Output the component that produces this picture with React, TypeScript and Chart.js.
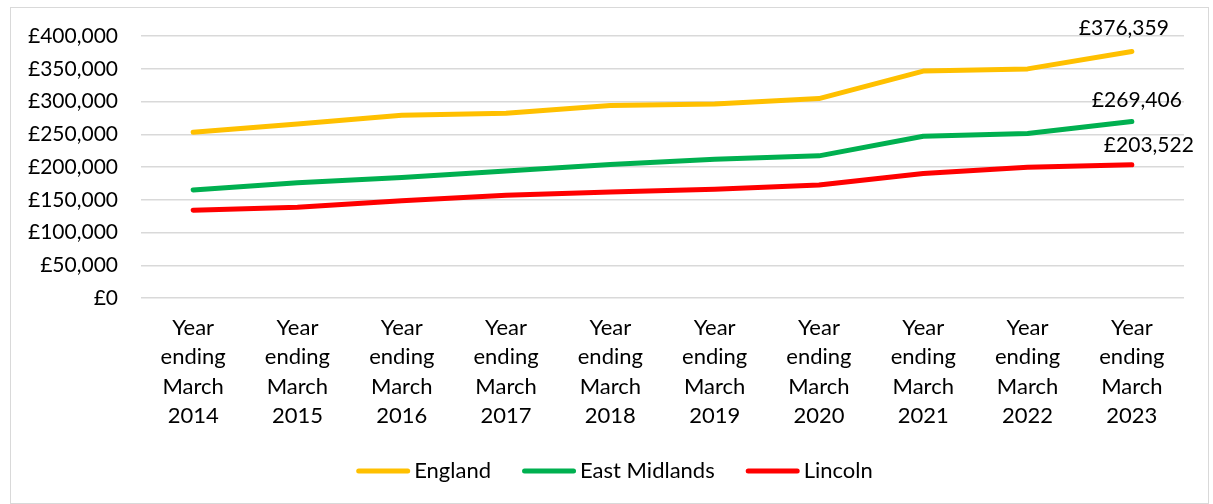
import React, { useEffect, useRef } from "react";
import { Chart, registerables } from "chart.js";

Chart.register(...registerables);

const years = ["2014", "2015", "2016", "2017", "2018", "2019", "2020", "2021", "2022", "2023"];
const categories = years.map((y) => ["Year", "ending", "March", y]);
const england = [253000, 265500, 279000, 282000, 294000, 296000, 304500, 346500, 349800, 376359];
const eastMidlands = [165000, 176000, 184000, 194000, 204000, 212000, 217000, 247000, 251000, 269406];
const lincoln = [134000, 138500, 148500, 157000, 162000, 166000, 172500, 190000, 199500, 203522];
const seriesNames = ["England", "East Midlands", "Lincoln"];
const seriesColors = ["#FFC000", "#00B050", "#FF0000"];
const yMin = 0;
const yMax = 400000;
const yStep = 50000;
const labelOffsets = [
  { dx: -8, dy: -16 },
  { dx: 5, dy: -15 },
  { dx: 17, dy: -13 },
];

const FONT = "Lato, 'Open Sans', sans-serif";

const fmt = (v: number) => "£" + Math.round(v).toLocaleString("en-GB");

const lastLabelPlugin = {
  id: "lastLabel",
  afterDatasetsDraw(chart: any) {
    const ctx = chart.ctx;
    ctx.save();
    ctx.font = `21px ${FONT}`;
    ctx.fillStyle = "#000";
    ctx.textAlign = "center";
    ctx.textBaseline = "alphabetic";
    chart.data.datasets.forEach((ds: any, i: number) => {
      const meta = chart.getDatasetMeta(i);
      const n = ds.data.length - 1;
      const pt = meta.data[n];
      if (!pt) return;
      const off = labelOffsets[i];
      ctx.fillText(fmt(ds.data[n]), pt.x + off.dx, pt.y + off.dy);
    });
    ctx.restore();
  },
};

// Legend drawn from the datasets (line sample + name), placed under the axis
const legendPlugin = {
  id: "lineLegend",
  afterDraw(chart: any) {
    const ctx = chart.ctx;
    const sample = 54;
    const gap = 4;
    const spacing = 31;
    ctx.save();
    ctx.font = `22px ${FONT}`;
    const items = chart.data.datasets.map((ds: any) => ({
      text: ds.label,
      color: ds.borderColor,
      w: sample + gap + ctx.measureText(ds.label).width,
    }));
    const total = items.reduce((s: number, it: any) => s + it.w, 0) + spacing * (items.length - 1);
    let x = chart.width / 2 + 8 - total / 2;
    const y = chart.chartArea.bottom + 173;
    items.forEach((it: any) => {
      ctx.strokeStyle = it.color;
      ctx.lineWidth = 5;
      ctx.lineCap = "round";
      ctx.beginPath();
      ctx.moveTo(x + 2.5, y);
      ctx.lineTo(x + sample - 2.5, y);
      ctx.stroke();
      ctx.fillStyle = "#000";
      ctx.textAlign = "left";
      ctx.textBaseline = "middle";
      ctx.fillText(it.text, x + sample + gap, y);
      x += it.w + spacing;
    });
    ctx.restore();
  },
};

export default function App() {
  const ref = useRef<HTMLCanvasElement>(null);
  useEffect(() => {
    if (!ref.current) return;
    const data = [england, eastMidlands, lincoln];
    const chart = new Chart(ref.current, {
      type: "line",
      data: {
        labels: categories,
        datasets: data.map((d, i) => ({
          label: seriesNames[i],
          data: d,
          borderColor: seriesColors[i],
          backgroundColor: seriesColors[i],
          borderWidth: 5,
          pointRadius: 0,
          tension: 0,
          borderCapStyle: "round",
          borderJoinStyle: "round",
        })),
      },
      options: {
        animation: false,
        responsive: false,
        maintainAspectRatio: false,
        layout: { padding: { left: 0, right: 29, top: 36, bottom: 0 } },
        plugins: {
          legend: { display: false },
          tooltip: { enabled: false },
        },
        scales: {
          x: {
            offset: true,
            grid: { display: false, drawTicks: false },
            border: { display: false },
            ticks: {
              font: { family: FONT, size: 22, lineHeight: 1.34 },
              color: "#000",
              maxRotation: 0,
              autoSkip: false,
              padding: 15,
            },
            afterFit(scale: any) {
              scale.height = 206;
            },
          },
          y: {
            min: yMin,
            max: yMax,
            grid: { color: "#d9d9d9", lineWidth: 1.5, drawTicks: false },
            border: { display: false },
            ticks: {
              stepSize: yStep,
              font: { family: FONT, size: 21 },
              color: "#000",
              padding: 23,
              callback: (v: any) => fmt(Number(v)),
            },
            afterFit(scale: any) {
              scale.width = 141;
            },
          },
        },
      },
      plugins: [lastLabelPlugin, legendPlugin],
    } as any);
    return () => chart.destroy();
  }, []);
  return (
    <div style={{ position: "absolute", left: 0, top: 0, width: 1213, height: 504, background: "#fff" }}>
      <canvas ref={ref} width={1213} height={504} style={{ display: "block" }} />
      <div
        style={{
          position: "absolute",
          left: 10,
          top: 7,
          width: 1199,
          height: 497,
          boxSizing: "border-box",
          border: "1px solid #d9d9d9",
          pointerEvents: "none",
        }}
      />
    </div>
  );
}
